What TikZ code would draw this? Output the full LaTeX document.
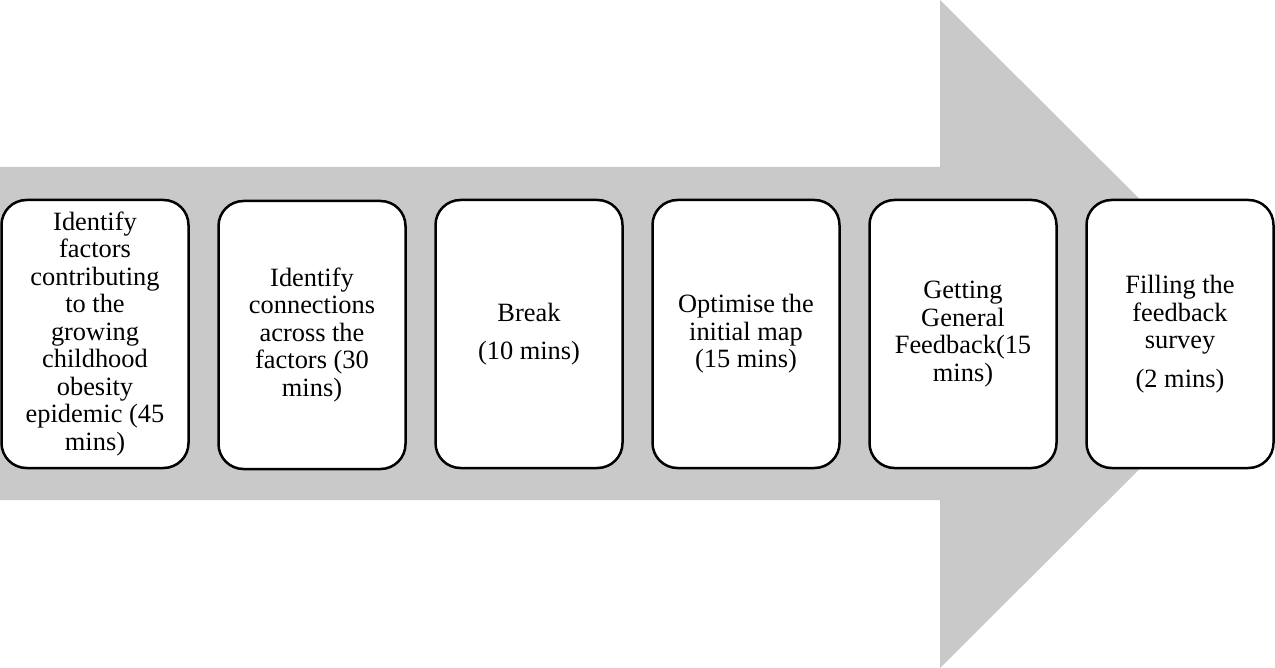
\documentclass[tikz,border=0pt]{standalone}
\usepackage{fontspec}
\setmainfont{Liberation Serif}
\definecolor{arrowgray}{RGB}{201,201,201}
\begin{document}
\begin{tikzpicture}[x=0.5pt,y=-0.5pt,
  stepbox/.style={draw=black, line width=1.25pt, fill=white,
    rounded corners=12.5pt, minimum width=93.5pt, minimum height=134pt,
    inner sep=0pt, align=center, font=\fontsize{13.2}{13.75}\selectfont}]
\useasboundingbox (0,0) rectangle (1275,668);
% broad process arrow behind the steps
\fill[arrowgray] (0,167) -- (940,167) -- (940,0) -- (1275,334)
  -- (940,668) -- (940,500) -- (0,500) -- cycle;
% the six steps
\node[stepbox] (s1) at (95,334) {Identify\\factors\\contributing\\to the\\growing\\childhood\\obesity\\epidemic (45\\mins)};
\node[stepbox] (s2) at (312,335) {Identify\\connections\\across the\\factors (30\\mins)};
\node[stepbox] (s3) at (529,334) {Break\\[5.5pt](10 mins)};
\node[stepbox] (s4) at (746,334) {Optimise the\\initial map\\(15 mins)};
\node[stepbox] (s5) at (963,334) {Getting\\General\\Feedback(15\\mins)};
\node[stepbox] (s6) at (1180,334) {Filling the\\feedback\\survey\\[5.5pt](2 mins)};
\end{tikzpicture}
\end{document}
